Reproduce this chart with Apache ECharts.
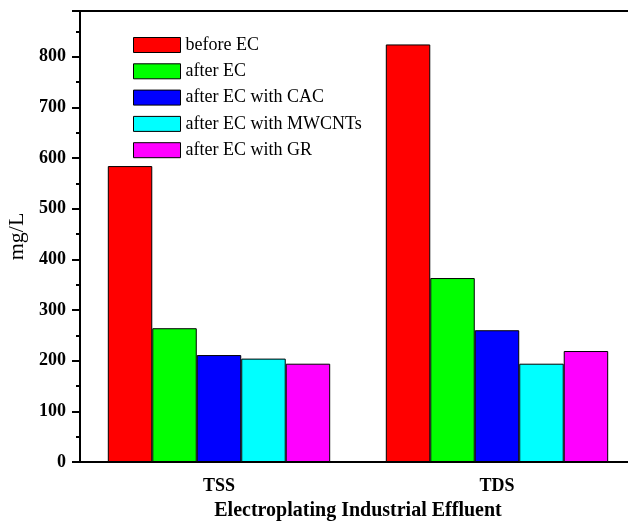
<!DOCTYPE html>
<html>
<head>
<meta charset="utf-8">
<script src="https://cdn.jsdelivr.net/npm/echarts@6/dist/echarts.min.js"></script>
<style>
html,body{margin:0;padding:0;background:#fff;}
#chart{width:628px;height:523px;}
</style>
</head>
<body>
<div id="chart"></div>
<script>
const categories = ['TSS', 'TDS'];
const seriesNames = ['before EC', 'after EC', 'after EC with CAC', 'after EC with MWCNTs', 'after EC with GR'];
const beforeEC = [584, 824];
const afterEC = [264, 363];
const afterCAC = [211, 260];
const afterMWCNTs = [204, 194];
const afterGR = [194, 219];
const yTicks = [0, 100, 200, 300, 400, 500, 600, 700, 800];

const colors = ['#FF0000', '#00FF00', '#0000FF', '#00FFFF', '#FF00FF'];
const values = [beforeEC, afterEC, afterCAC, afterMWCNTs, afterGR];
const FONT = '"Liberation Serif", "Times New Roman", serif';

const chart = echarts.init(document.getElementById('chart'));
chart.setOption({
  animation: false,
  backgroundColor: '#fff',
  grid: { left: 80, top: 11, right: -8, bottom: 61, outerBoundsMode: 'none', containLabel: false },
  legend: {
    orient: 'vertical',
    left: 133, top: 36,
    padding: 0,
    itemWidth: 47, itemHeight: 15, itemGap: 8.3,
    icon: 'rect',
    itemStyle: { borderColor: '#000', borderWidth: 1 },
    textStyle: { fontFamily: FONT, fontSize: 18, color: '#000' },
    data: seriesNames
  },
  xAxis: [{
    type: 'category',
    data: categories,
    position: 'bottom',
    axisLine: { lineStyle: { color: '#000', width: 2 } },
    axisTick: { alignWithLabel: true, length: 8, lineStyle: { color: '#000', width: 2 } },
    axisLabel: { margin: 15, fontFamily: FONT, fontSize: 18, fontWeight: 'bold', color: '#000' },
    name: 'Electroplating Industrial Effluent',
    nameLocation: 'middle',
    nameGap: 39,
    nameTextStyle: { fontFamily: FONT, fontSize: 20, fontWeight: 'bold', color: '#000' }
  }, {
    type: 'category',
    data: categories,
    position: 'top',
    axisLine: { lineStyle: { color: '#000', width: 2 } },
    axisTick: { alignWithLabel: true, length: 8, lineStyle: { color: '#000', width: 2 } },
    axisLabel: { show: false }
  }],
  yAxis: {
    type: 'value',
    min: 0, max: 890, interval: 100,
    axisLine: { show: true, lineStyle: { color: '#000', width: 2 } },
    axisTick: { show: true, length: 8, lineStyle: { color: '#000', width: 2 } },
    minorTick: { show: true, splitNumber: 2, length: 4, lineStyle: { color: '#000', width: 2 } },
    splitLine: { show: false },
    axisLabel: {
      margin: 14, showMaxLabel: false,
      fontFamily: FONT, fontSize: 18, fontWeight: 'bold', color: '#000',
      formatter: v => (yTicks.indexOf(v) >= 0 ? String(v) : '')
    },
    name: 'mg/L',
    nameLocation: 'middle',
    nameGap: 47,
    nameTextStyle: { fontFamily: FONT, fontSize: 22, color: '#000' }
  },
  series: seriesNames.map((n, i) => ({
    name: n,
    type: 'bar',
    xAxisIndex: 0,
    data: values[i],
    barGap: '0%',
    barCategoryGap: '20%',
    itemStyle: { color: colors[i], borderColor: '#000', borderWidth: 1 }
  }))
});
</script>
</body>
</html>
